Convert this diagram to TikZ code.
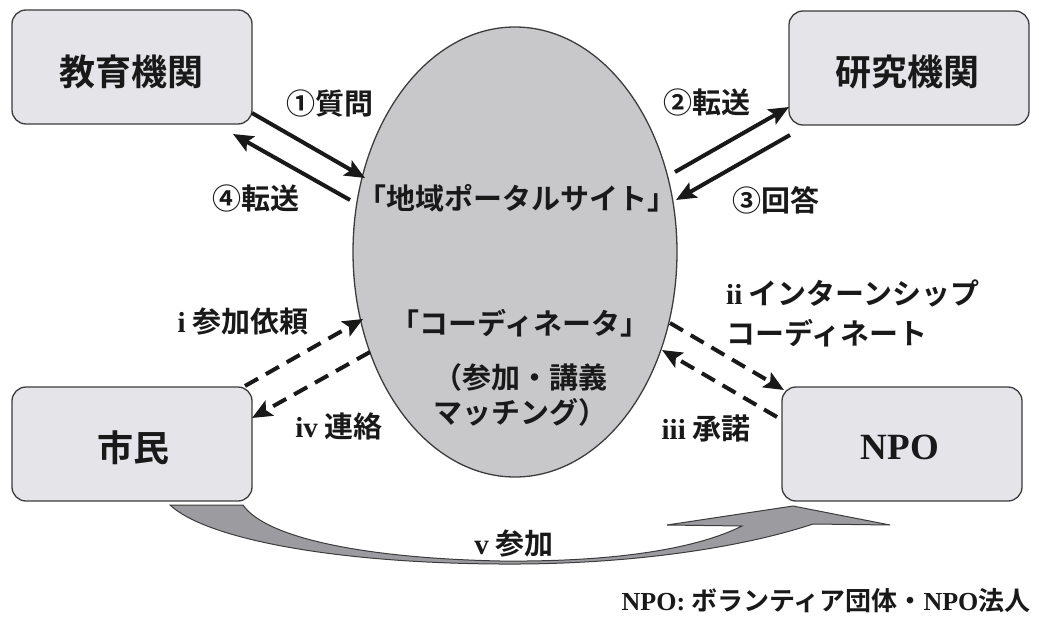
\documentclass[tikz,border=0pt]{standalone}
\usepackage{fontspec}
\usetikzlibrary{shapes.geometric,arrows.meta}
\newfontfamily\jp{Noto Sans CJK JP}[BoldFont={Noto Sans CJK JP Bold}]
\newfontfamily\tms{Liberation Serif}
\newcommand\jpb{\jp\bfseries}
\newcommand\tmb{\tms\bfseries}
\definecolor{boxfill}{RGB}{228,228,233}
\definecolor{ellfill}{RGB}{200,200,203}
\definecolor{bigarrow}{RGB}{155,155,160}
\definecolor{edge}{RGB}{60,60,60}
\definecolor{ink}{RGB}{25,25,25}
\begin{document}
\begin{tikzpicture}[x=1pt,y=-1pt,
  box/.style={draw=edge,line width=1.3pt,fill=boxfill,rounded corners=14pt,
    minimum width=240pt,minimum height=114pt,inner sep=0pt},
  boxtxt/.style={font=\jpb\fontsize{36}{40}\selectfont,text=ink,inner sep=0pt},
  lbl/.style={font=\jpb\fontsize{29}{32}\selectfont,text=ink,inner sep=0pt},
  arr/.style={draw=ink,line width=4pt,-{Stealth[length=20pt,width=17pt,inset=4pt]}},
  darr/.style={arr,dash pattern=on 15pt off 9pt}]
\useasboundingbox (0,0) rectangle (1039,618);

% portal ellipse
\node[ellipse,draw=edge,line width=1.3pt,fill=ellfill,minimum width=324pt,
  minimum height=450pt,inner sep=0pt] (portal) at (515,252) {};

% boxes
\node[box] (edu) at (132,67) {};
\node[box] (res) at (909,68) {};
\node[box] (cit) at (132,444) {};
\node[box] (npo) at (902,444) {};

\node[boxtxt] (edut) at (131,72) {教育機関};
\node[boxtxt] (rest) at (907,72) {研究機関};
\node[boxtxt] (citt) at (133,448) {市民};
\node[font=\tmb\fontsize{37}{40}\selectfont,text=ink,inner sep=0pt] (npot) at (900,447) {NPO};

% ellipse texts
\node[lbl] (p1) at (517,198) {「地域ポータルサイト」};
\node[lbl] (p2) at (520,323) {「コーディネータ」};
\node[lbl] (p3) at (520,377) {（参加・講義};
\node[lbl] (p4) at (520,412) {マッチング）};

% connector end points
\coordinate (a1s) at (252,113); \coordinate (a1e) at (365,178);
\coordinate (a4s) at (350,200); \coordinate (a4e) at (233,134);
\coordinate (a2s) at (675,172); \coordinate (a2e) at (789,107);
\coordinate (a3s) at (790,135); \coordinate (a3e) at (676,200);
\coordinate (bis) at (245,386); \coordinate (bie) at (363,319);
\coordinate (bivs) at (370,352); \coordinate (bive) at (252,418);
\coordinate (biis) at (670,323); \coordinate (biie) at (784,390);
\coordinate (biiis) at (777,417); \coordinate (biiie) at (662,350);

\draw[arr] (a1s) -- (a1e);
\draw[arr] (a4s) -- (a4e);
\draw[arr] (a2s) -- (a2e);
\draw[arr] (a3s) -- (a3e);
\draw[darr] (bis) -- (bie);
\draw[darr] (bivs) -- (bive);
\draw[darr] (biis) -- (biie);
\draw[darr] (biiis) -- (biiie);

% labels
\node[lbl] (l1) at (330,103) {①質問};
\node[lbl] (l4) at (256,198) {④転送};
\node[lbl] (l2) at (707,102) {②転送};
\node[lbl] (l3) at (776,200) {③回答};
\node[lbl] (li) at (243,322) {{\tmb i} 参加依頼};
\node[lbl] (liv) at (339,426) {{\tmb iv} 連絡};
\node[lbl,anchor=west] (lii) at (726,293) {{\tmb ii} インターンシップ};
\node[lbl,anchor=west] (lii2) at (726,333) {コーディネート};
\node[lbl] (liii) at (706,428) {{\tmb iii} 承諾};

% big curved arrow (v 参加)
\filldraw[fill=bigarrow,draw=edge,line width=1pt]
  (170,505) .. controls (205,538) and (330,563) .. (500,564)
  .. controls (640,565) and (750,545) .. (813,524)
  -- (890,525) -- (793,506) -- (667,525) -- (742,526)
  .. controls (690,552) and (600,562) .. (500,561)
  .. controls (360,558) and (265,537) .. (243,505) -- cycle;
\node[lbl] (lv) at (514,544) {{\tmb v} 参加};

% note
\node[font=\jpb\fontsize{26}{30}\selectfont,text=ink,inner sep=0pt] (note) at (826,601)
  {{\tmb NPO:} ボランティア団体・{\tmb NPO}法人};
\end{tikzpicture}
\end{document}
